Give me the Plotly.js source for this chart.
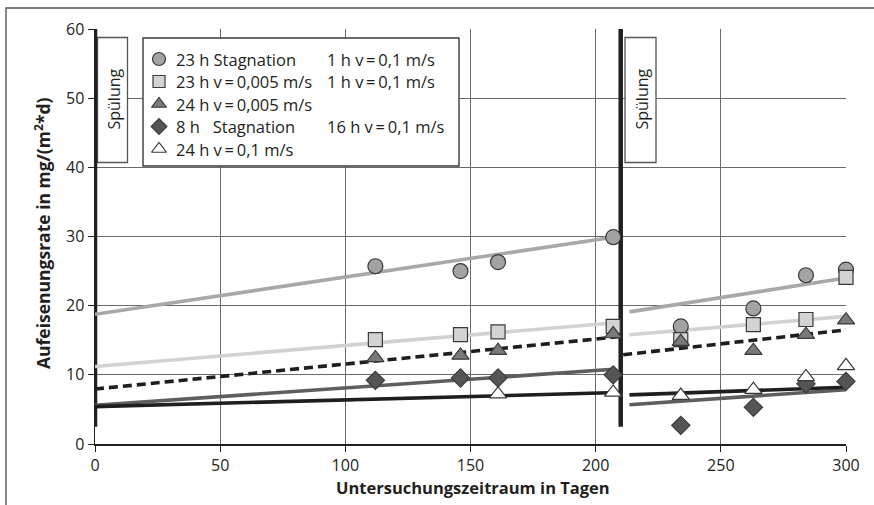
<!DOCTYPE html>
<html>
<head>
<meta charset="utf-8">
<script src="https://cdn.plot.ly/plotly-3.0.1.min.js"></script>
<style>
html,body{margin:0;padding:0;background:#fff;}
#chart{width:874px;height:505px;}
</style>
</head>
<body>
<div id="chart"></div>
<script>
// ---- data ----
const days = [112, 146, 161, 207, 234, 263, 284, 300];
const circle23hStag = [25.7, 25.0, 26.3, 29.9, 17.0, 19.6, 24.4, 25.2];
const square23hV005 = [15.1, 15.8, 16.2, 17.0, 15.1, 17.25, 18.0, 24.1];
const triangle24hV005 = [12.45, 12.8, 13.5, 15.9, 14.8, 13.5, 15.8, 17.9];
const diamond8hStag = [9.2, 9.55, 9.55, 10.0, 2.7, 5.3, 8.7, 9.05];
const daysOpen = [161, 207, 234, 263, 284, 300];
const openTri24hV01 = [7.2, 7.45, 7.0, 7.85, 9.7, 11.3];

// trend lines (two segments each, before and after second flushing)
const trend1X = [0, 207, null, 213.5, 300];
const trend1Y = [18.75, 29.9, null, 19.1, 24.0];
const trend2X = [0, 207, null, 213.5, 300];
const trend2Y = [11.2, 17.5, null, 15.8, 18.45];
const trend3X = [0, 209, null, 211, 300];
const trend3Y = [7.95, 15.5, null, 12.9, 16.5];
const trend4X = [0, 207, null, 213.5, 300];
const trend4Y = [5.6, 10.8, null, 5.67, 7.85];
const trend5X = [0, 205, null, 213.5, 300];
const trend5Y = [5.4, 7.4, null, 7.1, 8.2];

// flushing events
const flushDays = [0, 210];
const flushFrom = 2.5, flushTo = 60;
const flushLabel = 'Spülung';

// legend texts
const TS = '\u2009';
const legendCol1 = ['23 h Stagnation', '23 h v' + TS + '=' + TS + '0,005 m/s', '24 h v' + TS + '=' + TS + '0,005 m/s', '8 h   Stagnation', '24 h v' + TS + '=' + TS + '0,1 m/s'];
const legendCol2 = ['1 h v' + TS + '=' + TS + '0,1 m/s', '1 h v' + TS + '=' + TS + '0,1 m/s', '', '16 h v' + TS + '=' + TS + '0,1 m/s', ''];

const xTicks = [0, 50, 100, 150, 200, 250, 300];
const yTicks = [0, 10, 20, 30, 40, 50, 60];
const xTitle = 'Untersuchungszeitraum in Tagen';
const yTitle = 'Aufeisenungsrate in mg/(m<sup>2</sup>*d)';

// ---- layout geometry (pixels) ----
const W = 874, H = 505;
const M = {l: 95, r: 28, t: 29, b: 61};
const PW = W - M.l - M.r, PH = H - M.t - M.b;
const px2x = p => (p - M.l) / PW * 300;
const py2y = p => (H - M.b - p) / PH * 60;
const FONT = 'Open Sans, Noto Sans, sans-serif';
const TXT = '#231f20';

const markerLine = {color: '#3a3a3a', width: 1.2};
const styles = [
  {symbol: 'circle', color: '#a3a3a3', size: 15},
  {symbol: 'square', color: '#d3d3d3', size: 14},
  {symbol: 'triangle-up', color: '#7a7a7a', size: 15},
  {symbol: 'diamond', color: '#555555', size: 14},
  {symbol: 'triangle-up', color: '#ffffff', size: 15}
];

const traces = [];
// flushing lines
flushDays.forEach(d => traces.push({
  x: [d, d], y: [flushFrom, flushTo], mode: 'lines',
  line: {color: '#231f20', width: 4.5}, hoverinfo: 'skip', showlegend: false, cliponaxis: false
}));
// trend lines
const tr = (x, y, color, dash) => traces.push({
  x: x, y: y, mode: 'lines', connectgaps: false,
  line: {color: color, width: 3.6, dash: dash || 'solid'}, showlegend: false, hoverinfo: 'skip'
});
tr(trend1X, trend1Y, '#a8a8a8');
tr(trend2X, trend2Y, '#d2d2d2');
tr(trend4X, trend4Y, '#5e5e5e');
tr(trend5X, trend5Y, '#1e1e1e');
tr(trend3X, trend3Y, '#1e1e1e', '9px,5px');

// markers
const series = [
  [days, circle23hStag], [days, square23hV005], [days, triangle24hV005],
  [days, diamond8hStag], [daysOpen, openTri24hV01]
];
[0, 1, 2, 3, 4].forEach(i => {
  const s = styles[i];
  traces.push({
    x: series[i][0], y: series[i][1], mode: 'markers', showlegend: false,
    marker: {symbol: s.symbol, color: s.color, size: s.size, line: markerLine},
    cliponaxis: false
  });
});

// custom legend
const legRowsPx = [59, 81.5, 104, 126.5, 149];
const legMarkPx = 159, legText1Px = 174, legText2Px = 325;
styles.forEach((s, i) => {
  traces.push({
    x: [px2x(legMarkPx)], y: [py2y(legRowsPx[i])], mode: 'markers', showlegend: false,
    marker: {symbol: s.symbol, color: s.color, size: s.size - 2, line: markerLine}, hoverinfo: 'skip'
  });
});

const annotations = [];
const legFont = {family: FONT, size: 16.5, color: TXT};
legendCol1.forEach((t, i) => {
  annotations.push({x: px2x(legText1Px), y: py2y(legRowsPx[i]), xref: 'x', yref: 'y', text: t,
    showarrow: false, xanchor: 'left', yanchor: 'middle', font: legFont});
  if (legendCol2[i]) annotations.push({x: px2x(legText2Px), y: py2y(legRowsPx[i]), xref: 'x', yref: 'y', text: legendCol2[i],
    showarrow: false, xanchor: 'left', yanchor: 'middle', font: legFont});
});
// Spülung labels
const flushBoxPx = [[97.5, 127.5], [625, 656]];
const flushBoxTop = 37.5, flushBoxBot = 162.5;
const shapes = [];
flushBoxPx.forEach(b => {
  shapes.push({type: 'rect', xref: 'x', yref: 'y', x0: px2x(b[0]), x1: px2x(b[1]),
    y0: py2y(flushBoxBot), y1: py2y(flushBoxTop), fillcolor: '#ffffff', line: {color: '#555', width: 1.3}, layer: 'between'});
  annotations.push({x: px2x((b[0] + b[1]) / 2 + 1), y: py2y(99), xref: 'x', yref: 'y', text: flushLabel, textangle: -90,
    xanchor: 'center', yanchor: 'middle',
    showarrow: false, font: {family: FONT, size: 16, color: TXT}});
});
// legend frame
shapes.push({type: 'rect', xref: 'x', yref: 'y', x0: px2x(143), x1: px2x(459), y0: py2y(166), y1: py2y(38),
  fillcolor: '#ffffff', line: {color: '#3a3a3a', width: 1.4}, layer: 'between'});
// outer frame
shapes.push({type: 'rect', xref: 'paper', yref: 'paper', x0: (6 - M.l) / PW, x1: (W + 10 - M.l) / PW,
  y0: (H - M.b - (H + 10)) / PH, y1: (H - M.b - 8) / PH, line: {color: '#555', width: 1.4}, fillcolor: 'rgba(0,0,0,0)'});

// axis titles
annotations.push({xref: 'paper', yref: 'paper', x: (473 - M.l) / PW, y: (H - M.b - 487) / PH, text: xTitle,
  xanchor: 'center', yanchor: 'middle',
  showarrow: false, font: {family: FONT, size: 16.5, color: TXT, weight: 'bold'}});
annotations.push({xref: 'paper', yref: 'paper', x: (43 - M.l) / PW, y: (H - M.b - 233) / PH, text: yTitle, textangle: -90,
  xanchor: 'center', yanchor: 'middle',
  showarrow: false, font: {family: FONT, size: 17.5, color: TXT, weight: 'bold'}});

const layout = {
  width: W, height: H, margin: M,
  paper_bgcolor: '#fff', plot_bgcolor: '#fff',
  showlegend: false,
  xaxis: {range: [0, 300], tickvals: xTicks, ticks: 'outside', ticklen: 6, tickcolor: '#231f20',
    showgrid: true, gridcolor: '#6a6a6a', gridwidth: 1.2, zeroline: false,
    showline: true, linecolor: '#231f20', linewidth: 1.5, mirror: false,
    tickfont: {family: FONT, size: 16, color: TXT}, fixedrange: true},
  yaxis: {range: [0, 60], tickvals: yTicks, ticks: 'outside', ticklen: 6, tickcolor: '#231f20',
    showgrid: true, gridcolor: '#6a6a6a', gridwidth: 1.2, zeroline: false,
    showline: true, linecolor: '#231f20', linewidth: 1.5,
    tickfont: {family: FONT, size: 16, color: TXT}, fixedrange: true},
  shapes: shapes, annotations: annotations
};
Plotly.newPlot('chart', traces, layout, {displayModeBar: false, staticPlot: true});
</script>
</body>
</html>
